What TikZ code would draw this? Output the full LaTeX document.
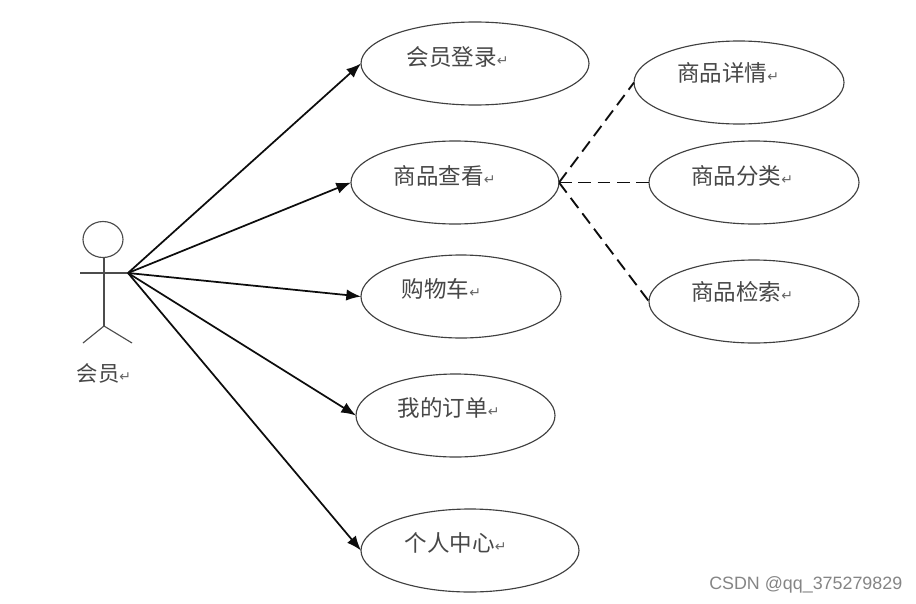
\documentclass[tikz,border=0pt]{standalone}
\usepackage{fontspec}
\setmainfont{Liberation Sans}
\newfontfamily\cjkfont{Noto Sans CJK SC}[Scale=1]
\newfontfamily\symfont{DejaVu Sans}
\usetikzlibrary{arrows.meta,shapes.geometric}
\newcommand{\retmark}{{\symfont\fontsize{10.5pt}{10.5pt}\selectfont\textcolor{black!60}{↵}}}
\tikzset{
  usecase/.style={ellipse,draw=black!75,line width=0.85pt,inner sep=0pt,outer sep=0pt,minimum width=#1*0.75pt,minimum height=62.25pt},
  uclabel/.style={anchor=west,inner sep=0pt,text=black!72,font=\cjkfont\fontsize{16.9pt}{18pt}\selectfont},
  assoc/.style={draw=black!95,line width=1.3pt,-{Latex[length=11pt,width=8.5pt]}},
  depend/.style={draw=black!95,line width=1.4pt,dash pattern=on 9.5pt off 5pt},
  stick/.style={draw=black!70,line width=0.85pt}
}
\begin{document}
\begin{tikzpicture}[x=0.75pt,y=-0.75pt]
\useasboundingbox (0,0) rectangle (916,603);
\fill[white] (0,0) rectangle (916,603);
% use cases
\node[usecase=228] (login) at (475,63.5) {};
\node[usecase=208] (view) at (455,182.5) {};
\node[usecase=200] (cart) at (461,296.5) {};
\node[usecase=199] (order) at (455.5,415.5) {};
\node[usecase=218] (center) at (470,550.5) {};
\node[usecase=210] (detail) at (739,82.5) {};
\node[usecase=210] (cat) at (754,182.5) {};
\node[usecase=210] (search) at (754,301.5) {};
% labels
\node[uclabel] (t1) at (406.5,57) {会员登录\retmark};
\node[uclabel] (t2) at (393.5,176) {商品查看\retmark};
\node[uclabel] (t3) at (401.5,289) {购物车\retmark};
\node[uclabel] (t4) at (397.5,408) {我的订单\retmark};
\node[uclabel] (t5) at (404.5,543) {个人中心\retmark};
\node[uclabel] (t6) at (677,73) {商品详情\retmark};
\node[uclabel] (t7) at (691,176) {商品分类\retmark};
\node[uclabel] (t8) at (691,292) {商品检索\retmark};
\node[uclabel,font=\cjkfont\fontsize{16pt}{18pt}\selectfont] (t9) at (76.5,373) {会员\retmark};
% actor
\node[ellipse,stick,inner sep=0pt,minimum width=30pt,minimum height=27pt] (head) at (103,239.5) {};
\coordinate (neck) at (104,257);
\coordinate (hip) at (104,326);
\coordinate (armL) at (80,273);
\coordinate (hand) at (128,273);
\coordinate (footL) at (83,343);
\coordinate (footR) at (132,343);
\draw[stick] (neck) -- (hip);
\draw[stick] (armL) -- (hand);
\draw[stick] (footL) -- (hip) -- (footR);
% associations
\draw[assoc] (hand) -- (login.west);
\draw[assoc] (hand) -- (view.west);
\draw[assoc] (hand) -- (cart.west);
\draw[assoc] (hand) -- (order.west);
\draw[assoc] (hand) -- (center.west);
% dependencies
\draw[depend] (view.east) -- (detail.west);
\draw[depend] (view.east) -- (cat.west);
\draw[depend] (view.east) -- (search.west);
% watermark
\node[anchor=west,inner sep=0pt,text=black!48,font=\fontsize{13.4pt}{15pt}\selectfont] (wm) at (709,585) {CSDN @qq\_375279829};
\end{tikzpicture}
\end{document}
